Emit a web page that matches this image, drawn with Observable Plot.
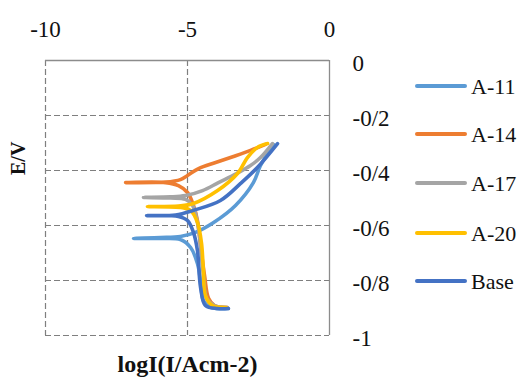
<!DOCTYPE html>
<html>
<head>
<meta charset="utf-8">
<script src="https://cdn.jsdelivr.net/npm/d3@7"></script>
<script src="https://cdn.jsdelivr.net/npm/@observablehq/plot@0.6"></script>
<style>
  body { margin: 0; background: #fff; }
  #wrap { position: relative; width: 521px; height: 378px; overflow: hidden; font-family: "Liberation Serif", serif; }
  #wrap svg text { font-family: "Liberation Serif", serif; }
  .leg { position: absolute; left: 415px; width: 110px; height: 30px; }
  .leg .sw { position: absolute; left: 0; top: 13px; width: 52px; height: 4px; border-radius: 2px; }
  .leg .lb { position: absolute; left: 56px; top: 0; font-size: 22px; line-height: 30px; color: #111; font-family: "Liberation Serif", serif; }
</style>
</head>
<body>
<div id="wrap"></div>
<script>
// ---- data ----
const series = ["A-11", "A-14", "A-17", "A-20", "Base"];
const colors = ["#5B9BD5", "#ED7D31", "#A5A5A5", "#FFC000", "#4472C4"];

const xTicks = [-10, -5, 0];
const xTickLabels = ["-10", "-5", "0"];
const yTicks = [0, -0.2, -0.4, -0.6, -0.8, -1];
const yTickLabels = ["0", "-0/2", "-0/4", "-0/6", "-0/8", "-1"];
const xTitle = "logI(I/Acm-2)";
const yTitle = "E/V";

// each curve: cathodic end (bottom) -> corrosion tip -> anodic end (top)
const a11LogI = [-3.56, -4.19, -4.44, -4.54, -4.65, -4.89, -5.25, -5.95, -6.90, -5.95, -5.25, -4.72, -4.08, -3.31, -2.68, -2.43, -2.18, -1.97];
const a11E    = [-0.902, -0.898, -0.873, -0.800, -0.738, -0.680, -0.651, -0.647, -0.647, -0.644, -0.640, -0.625, -0.589, -0.527, -0.444, -0.382, -0.338, -0.305];

const a14LogI = [-3.59, -4.05, -4.26, -4.40, -4.54, -4.65, -4.79, -5.00, -5.32, -5.77, -7.18, -5.77, -5.25, -5.00, -4.61, -4.01, -3.38, -2.78, -2.25];
const a14E    = [-0.898, -0.891, -0.865, -0.782, -0.673, -0.582, -0.527, -0.480, -0.455, -0.444, -0.444, -0.442, -0.433, -0.418, -0.393, -0.371, -0.349, -0.327, -0.305];

const a17LogI = [-3.59, -4.05, -4.33, -4.44, -4.54, -4.65, -4.82, -5.07, -5.60, -6.55, -5.60, -5.07, -4.47, -3.91, -3.27, -2.78, -2.43, -2.01];
const a17E    = [-0.898, -0.891, -0.865, -0.782, -0.673, -0.589, -0.527, -0.505, -0.500, -0.498, -0.496, -0.491, -0.473, -0.444, -0.411, -0.382, -0.353, -0.302];

const a20LogI = [-3.63, -4.12, -4.37, -4.44, -4.51, -4.65, -4.89, -5.18, -6.41, -5.32, -4.79, -3.94, -3.24, -2.89, -2.54, -2.18];
const a20E    = [-0.898, -0.891, -0.855, -0.764, -0.662, -0.589, -0.545, -0.535, -0.531, -0.529, -0.520, -0.473, -0.411, -0.353, -0.316, -0.302];

const baseLogI = [-3.56, -3.94, -4.37, -4.54, -4.65, -4.79, -5.00, -5.32, -6.44, -5.42, -4.79, -3.84, -3.13, -2.54, -1.83];
const baseE    = [-0.902, -0.902, -0.891, -0.825, -0.691, -0.625, -0.582, -0.567, -0.564, -0.562, -0.545, -0.509, -0.447, -0.389, -0.302];

// ---- build table ----
const logIs = [a11LogI, a14LogI, a17LogI, a20LogI, baseLogI];
const Es = [a11E, a14E, a17E, a20E, baseE];
const rows = series.flatMap((s, i) => logIs[i].map((x, j) => ({series: s, x, y: Es[i][j]})));

const serif = "'Liberation Serif', serif";
const gridStyle = {stroke: "#7f7f7f", strokeOpacity: 1, strokeWidth: 1.2, strokeDasharray: "6,3"};

const chart = Plot.plot({
  width: 521,
  height: 378,
  marginLeft: 45,
  marginRight: 192,
  marginTop: 60,
  marginBottom: 43,
  style: {fontFamily: serif, fontSize: "23px", color: "#111", background: "#fff", overflow: "visible"},
  x: {domain: [-10, 0]},
  y: {domain: [-1, 0]},
  color: {domain: series, range: colors},
  marks: [
    Plot.gridY(yTicks.slice(1), {y: d => d, ...gridStyle}),
    Plot.gridX(xTicks.slice(0, 2), {x: d => d, ...gridStyle}),
    Plot.ruleY([0], {stroke: "#8c8c8c", strokeWidth: 1.3}),
    Plot.ruleX([0], {stroke: "#8c8c8c", strokeWidth: 1.3}),
    Plot.axisX({anchor: "top", ticks: xTicks, tickSize: 0, tickPadding: 24, fontFamily: serif, fontSize: 23,
      tickFormat: d => xTickLabels[xTicks.indexOf(d)], label: null}),
    Plot.axisY({anchor: "right", ticks: yTicks, tickSize: 0, tickPadding: 23, dy: 3, fontFamily: serif, fontSize: 23,
      tickFormat: d => yTickLabels[yTicks.findIndex(t => Math.abs(t - d) < 1e-9)], label: null}),
    Plot.line(rows, {x: "x", y: "y", z: "series", stroke: "series", strokeWidth: 3.6,
      curve: "catmull-rom", strokeLinecap: "round", strokeLinejoin: "round"}),
    Plot.text([xTitle], {frameAnchor: "bottom", text: d => d, dy: 36, lineAnchor: "bottom",
      fontFamily: serif, fontWeight: "bold", fontSize: 24}),
    Plot.text([yTitle], {frameAnchor: "left", text: d => d, dx: -27, dy: -23, rotate: -90,
      fontFamily: serif, fontWeight: "bold", fontSize: 20})
  ]
});

const wrap = document.getElementById("wrap");
wrap.appendChild(chart);

// legend
const legendY = [85.7, 134, 183, 233, 281];
series.forEach((s, i) => {
  const d = document.createElement("div");
  d.className = "leg";
  d.style.top = (legendY[i] - 15) + "px";
  const sw = document.createElement("div");
  sw.className = "sw";
  sw.style.background = colors[i];
  const lb = document.createElement("div");
  lb.className = "lb";
  lb.style.top = "1px";
  lb.textContent = s;
  d.appendChild(sw);
  d.appendChild(lb);
  wrap.appendChild(d);
});
</script>
</body>
</html>
